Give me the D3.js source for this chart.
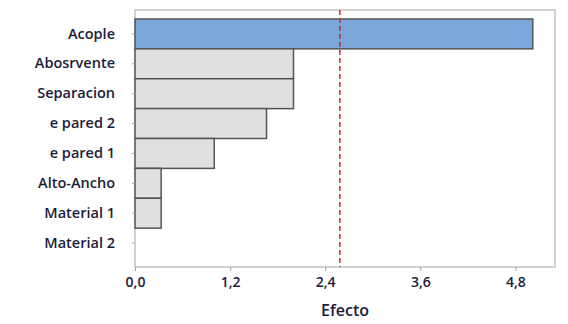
<!DOCTYPE html>
<html><head><meta charset="utf-8">
<script src="https://cdn.jsdelivr.net/npm/d3@7"></script>
<style>body{margin:0;background:#fff}svg{display:block}</style>
</head><body>
<svg id="c" width="568" height="324"></svg>
<script>
const categories = ["Acople","Abosrvente","Separacion","e pared 2","e pared 1","Alto-Ancho","Material 1","Material 2"];
const effects = [5.02, 2.00, 2.00, 1.66, 1.00, 0.33, 0.33, 0.0];
const highlighted = ["Acople"];
const refValue = 2.585;
const xTicks = [0, 1.2, 2.4, 3.6, 4.8];
const xLabel = "Efecto";

const svg = d3.select("#c");
const L = 135, R = 555, T = 10, B = 267;
const x = d3.scaleLinear().domain([0, 5.3]).range([L, R]);
const y = d3.scaleBand().domain(categories).range([T, B]).paddingInner(0).paddingOuter(0.3);
const font = "'Open Sans', 'DejaVu Sans', sans-serif";
const txt = "#1c1c3a";

svg.append("rect").attr("x", L).attr("y", T).attr("width", R - L).attr("height", B - T)
  .attr("fill", "none").attr("stroke", "#b4b4b4").attr("stroke-width", 1.2);

svg.selectAll(".bar").data(categories).enter().append("rect")
  .attr("x", x(0))
  .attr("y", d => y(d))
  .attr("width", (d, i) => x(effects[i]) - x(0))
  .attr("height", y.bandwidth())
  .attr("fill", d => highlighted.includes(d) ? "#7aa6da" : "#e0e0e0")
  .attr("stroke", "#555555").attr("stroke-width", 1.5);

svg.append("line").attr("x1", x(refValue)).attr("x2", x(refValue)).attr("y1", T).attr("y2", B)
  .attr("stroke", "#e0202a").attr("stroke-width", 1.5).attr("stroke-dasharray", "5,3");

const xa = svg.append("g").attr("transform", `translate(0,${B})`)
  .call(d3.axisBottom(x).tickValues(xTicks).tickSize(4).tickSizeOuter(0)
    .tickFormat(d => d3.format(".1f")(d).replace(".", ",")));
xa.select(".domain").remove();
xa.selectAll("line").attr("stroke", "#a0a0a0");
xa.selectAll("text").attr("font-family", font).attr("font-size", 14).attr("font-weight", 600).attr("fill", txt).attr("dy", "0.95em");

const ya = svg.append("g").attr("transform", `translate(${L},0)`)
  .call(d3.axisLeft(y).tickSize(3).tickSizeOuter(0).tickPadding(17));
ya.select(".domain").remove();
ya.selectAll("line").attr("stroke", "#a0a0a0");
ya.selectAll("text").attr("font-family", font).attr("font-size", 14.5).attr("font-weight", 600).attr("fill", txt);

svg.append("text").attr("x", (L + R) / 2).attr("y", 316).attr("text-anchor", "middle")
  .attr("font-family", font).attr("font-size", 16).attr("font-weight", 600).attr("fill", txt).text(xLabel);
</script>
</body></html>
